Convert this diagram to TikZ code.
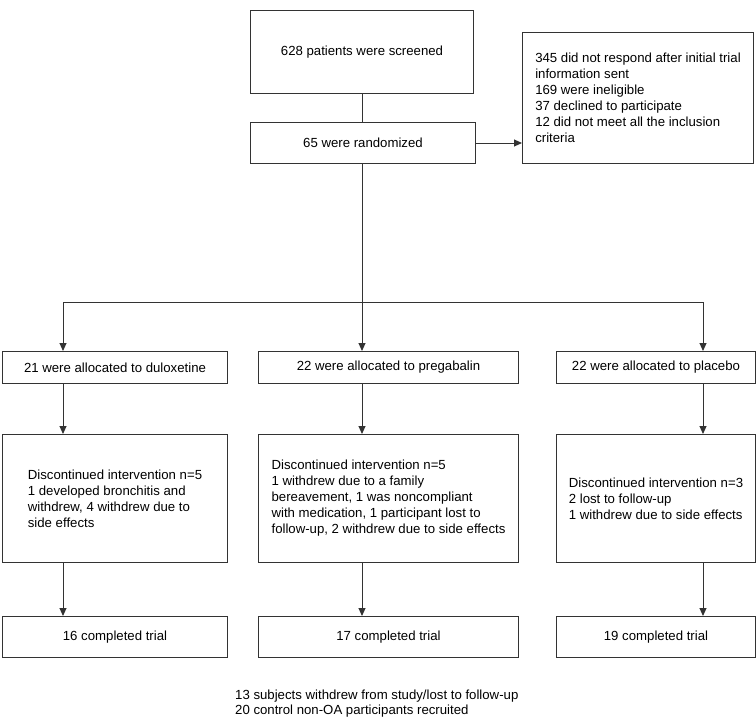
\documentclass[tikz,border=0pt]{standalone}
\usepackage{fontspec}
\setmainfont{Liberation Sans}
\usetikzlibrary{arrows.meta}

\tikzstyle{flowBox}=[draw=black!80,line width=1pt,inner sep=0pt,anchor=north west,font=\fontsize{13.2}{16}\selectfont]
\tikzstyle{flowLine}=[draw=black!80,line width=1pt]
\tikzstyle{flowArrow}=[flowLine,-{Triangle[length=8pt,width=7pt]}]

\begin{document}
\begin{tikzpicture}[x=1pt,y=-1pt]
        \useasboundingbox[fill=white] (0,0) rectangle (756,718);

        % enrolment
        \node[flowBox,minimum width=223pt,minimum height=83pt] (screen) at (250,10) {628 patients were screened};
        \node[flowBox,minimum width=225pt,minimum height=41pt] (rand) at (250,122) {65 were randomized};
        \node[flowBox,minimum width=231pt,minimum height=131pt,align=left] (excl) at (522,32)
            {345 did not respond after initial trial\\information sent\\169 were ineligible\\37 declined to participate\\12 did not meet all the inclusion\\criteria};

        % allocation
        \node[flowBox,minimum width=225pt,minimum height=32pt] (dul) at (2,351)   {21 were allocated to duloxetine};
        \node[flowBox,minimum width=260pt,minimum height=32pt] (pre) at (258,351) {22 were allocated to pregabalin};
        \node[flowBox,minimum width=199pt,minimum height=32pt] (pla) at (556,351) {22 were allocated to placebo};

        % follow-up
        \node[flowBox,minimum width=225pt,minimum height=128pt,align=left] (dulOut) at (2,434)
            {Discontinued intervention n=5\\1 developed bronchitis and\\withdrew, 4 withdrew due to\\side effects};
        \node[flowBox,minimum width=260pt,minimum height=128pt,align=left] (preOut) at (258,434)
            {Discontinued intervention n=5\\1 withdrew due to a family\\bereavement, 1 was noncompliant\\with medication, 1 participant lost to\\follow-up, 2 withdrew due to side effects};
        \node[flowBox,minimum width=199pt,minimum height=128pt,align=left] (plaOut) at (556,434)
            {Discontinued intervention n=3\\2 lost to follow-up\\1 withdrew due to side effects};

        % analysis
        \node[flowBox,minimum width=225pt,minimum height=41pt] (dulDone) at (2,616)   {16 completed trial};
        \node[flowBox,minimum width=260pt,minimum height=41pt] (preDone) at (258,616) {17 completed trial};
        \node[flowBox,minimum width=199pt,minimum height=41pt] (plaDone) at (556,616) {19 completed trial};

        \node[anchor=north west,align=left,inner sep=0pt,font=\fontsize{13.2}{15}\selectfont] (note) at (235,690)
            {13 subjects withdrew from study/lost to follow-up\\20 control non-OA participants recruited};

        % connector columns
        \coordinate (c1) at (63,0);
        \coordinate (c2) at (362,0);
        \coordinate (c3) at (703,0);
        \coordinate (split) at (362,302);

        \draw [flowLine] (screen.south -| c2) -- (rand.north -| c2);
        \draw [flowArrow] (rand.east) -- (excl.west |- rand.east);
        \draw [flowLine] (rand.south -| c2) -- (split);

        \draw [flowArrow] (split) -| (dul.north -| c1);
        \draw [flowArrow] (split) -- (pre.north -| c2);
        \draw [flowArrow] (split) -| (pla.north -| c3);

        \draw [flowArrow] (dul.south -| c1) -- (dulOut.north -| c1);
        \draw [flowArrow] (pre.south -| c2) -- (preOut.north -| c2);
        \draw [flowArrow] (pla.south -| c3) -- (plaOut.north -| c3);

        \draw [flowArrow] (dulOut.south -| c1) -- (dulDone.north -| c1);
        \draw [flowArrow] (preOut.south -| c2) -- (preDone.north -| c2);
        \draw [flowArrow] (plaOut.south -| c3) -- (plaDone.north -| c3);
    \end{tikzpicture}
\end{document}
